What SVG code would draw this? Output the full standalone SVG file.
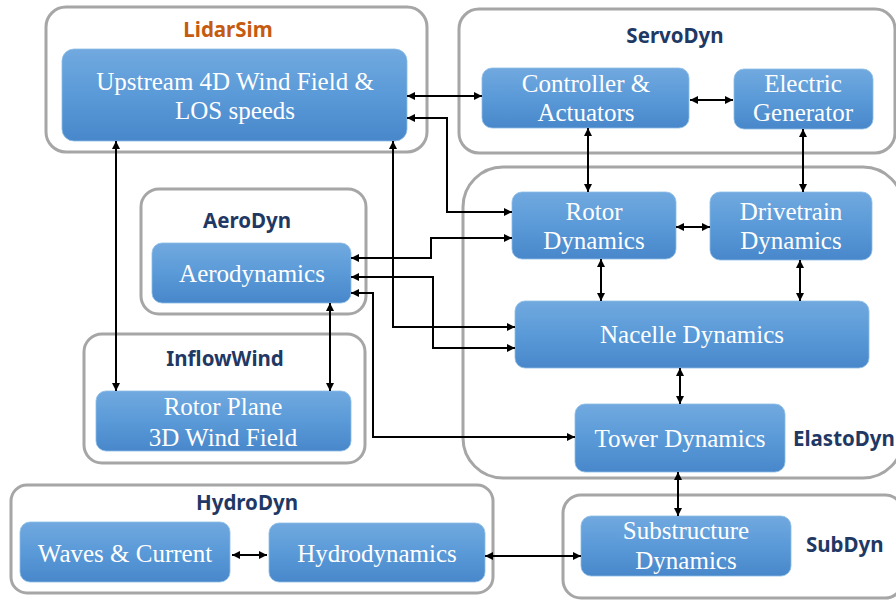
<svg xmlns="http://www.w3.org/2000/svg" width="896" height="601" viewBox="0 0 896 601">
<defs>
<linearGradient id="bg" x1="0" y1="0" x2="0" y2="1">
<stop offset="0" stop-color="#71A9DF"/>
<stop offset="0.5" stop-color="#5A9AD8"/>
<stop offset="1" stop-color="#4887CA"/>
</linearGradient>
<marker id="ah" viewBox="0 0 10 10" refX="10" refY="5" markerWidth="9" markerHeight="8" markerUnits="userSpaceOnUse" orient="auto-start-reverse">
<path d="M0,0 L10,5 L0,10 z" fill="#000"/>
</marker>
<style>
.grp{fill:#fff;stroke:#A6A6A6;stroke-width:3}
.box{fill:url(#bg);stroke:#8DBCE6;stroke-width:0.8}
.t{font-family:"Liberation Serif",serif;font-size:25px;fill:#fff;text-anchor:middle}
.lbl{font-family:"Noto Sans",sans-serif;font-weight:bold;font-size:20.5px;fill:#1F3864}
.mid{text-anchor:middle}
.c{fill:none;stroke:#000;stroke-width:2;marker-start:url(#ah);marker-end:url(#ah)}
</style>
</defs>
<g id="LidarSim">
<rect class="grp" x="46" y="7" width="381" height="145" rx="20"/>
<text class="lbl mid" x="228" y="37" style="fill:#C55A11">LidarSim</text>
<g id="upstream">
<rect class="box" x="62" y="49" width="345" height="92" rx="12"/>
<text class="t" x="235" y="90">Upstream 4D Wind Field &amp;</text>
<text class="t" x="235" y="119">LOS speeds</text>
</g>
</g>
<g id="ServoDyn">
<rect class="grp" x="459" y="9" width="436" height="144" rx="20"/>
<text class="lbl mid" x="675" y="43">ServoDyn</text>
<g id="controller">
<rect class="box" x="482" y="68" width="207" height="60" rx="10"/>
<text class="t" x="586" y="92">Controller &amp;</text>
<text class="t" x="586" y="121">Actuators</text>
</g>
<g id="generator">
<rect class="box" x="734" y="69" width="139" height="60" rx="10"/>
<text class="t" x="803" y="92">Electric</text>
<text class="t" x="803" y="121">Generator</text>
</g>
</g>
<g id="ElastoDyn">
<rect class="grp" x="463" y="167" width="440" height="311" rx="40"/>
<text class="lbl" x="793" y="446">ElastoDyn</text>
<g id="rotor">
<rect class="box" x="512" y="192" width="164" height="67" rx="10"/>
<text class="t" x="594" y="220">Rotor</text>
<text class="t" x="594" y="249">Dynamics</text>
</g>
<g id="drivetrain">
<rect class="box" x="710" y="192" width="162" height="68" rx="10"/>
<text class="t" x="791" y="220">Drivetrain</text>
<text class="t" x="791" y="249">Dynamics</text>
</g>
<g id="nacelle">
<rect class="box" x="515" y="301" width="354" height="67" rx="10"/>
<text class="t" x="692" y="343">Nacelle Dynamics</text>
</g>
<g id="tower">
<rect class="box" x="575" y="404" width="210" height="68" rx="10"/>
<text class="t" x="680" y="447">Tower Dynamics</text>
</g>
</g>
<g id="AeroDyn">
<rect class="grp" x="141" y="189" width="225" height="125" rx="18"/>
<text class="lbl mid" x="247" y="228">AeroDyn</text>
<g id="aerodynamics">
<rect class="box" x="152" y="243" width="199" height="60" rx="10"/>
<text class="t" x="252" y="282">Aerodynamics</text>
</g>
</g>
<g id="InflowWind">
<rect class="grp" x="84" y="334" width="281" height="129" rx="18"/>
<text class="lbl mid" x="225" y="366">InflowWind</text>
<g id="rotorplane">
<rect class="box" x="96" y="391" width="255" height="60" rx="10"/>
<text class="t" x="223" y="415">Rotor Plane</text>
<text class="t" x="223" y="446">3D Wind Field</text>
</g>
</g>
<g id="HydroDyn">
<rect class="grp" x="11" y="485" width="482" height="108" rx="16"/>
<text class="lbl mid" x="247" y="510">HydroDyn</text>
<g id="waves">
<rect class="box" x="20" y="522" width="210" height="60" rx="10"/>
<text class="t" x="125" y="562">Waves &amp; Current</text>
</g>
<g id="hydrodynamics">
<rect class="box" x="269" y="523" width="216" height="59" rx="10"/>
<text class="t" x="377" y="562">Hydrodynamics</text>
</g>
</g>
<g id="SubDyn">
<rect class="grp" x="563" y="495" width="340" height="103" rx="18"/>
<text class="lbl" x="806" y="552">SubDyn</text>
<g id="substructure">
<rect class="box" x="581" y="516" width="210" height="60" rx="10"/>
<text class="t" x="686" y="539">Substructure</text>
<text class="t" x="686" y="569">Dynamics</text>
</g>
</g>
<g id="connectors">
<path class="c" d="M407,96 H482"/>
<path class="c" d="M690,100 H733"/>
<path class="c" d="M588,128 V192"/>
<path class="c" d="M803,129 V192"/>
<path class="c" d="M676,227 H710"/>
<path class="c" d="M601,259 V301"/>
<path class="c" d="M800,260 V301"/>
<path class="c" d="M680,368 V404"/>
<path class="c" d="M678,472 V516"/>
<path class="c" d="M485,556 H581"/>
<path class="c" d="M232,555 H267"/>
<path class="c" d="M116,141 V391"/>
<path class="c" d="M407,118 H447 V212 H512"/>
<path class="c" d="M393,141 V327 H515"/>
<path class="c" d="M351,258 H431 V238 H512"/>
<path class="c" d="M351,277 H433 V348 H515"/>
<path class="c" d="M351,293 H373 V437 H575"/>
<path class="c" d="M330,303 V391"/>
</g>
</svg>
